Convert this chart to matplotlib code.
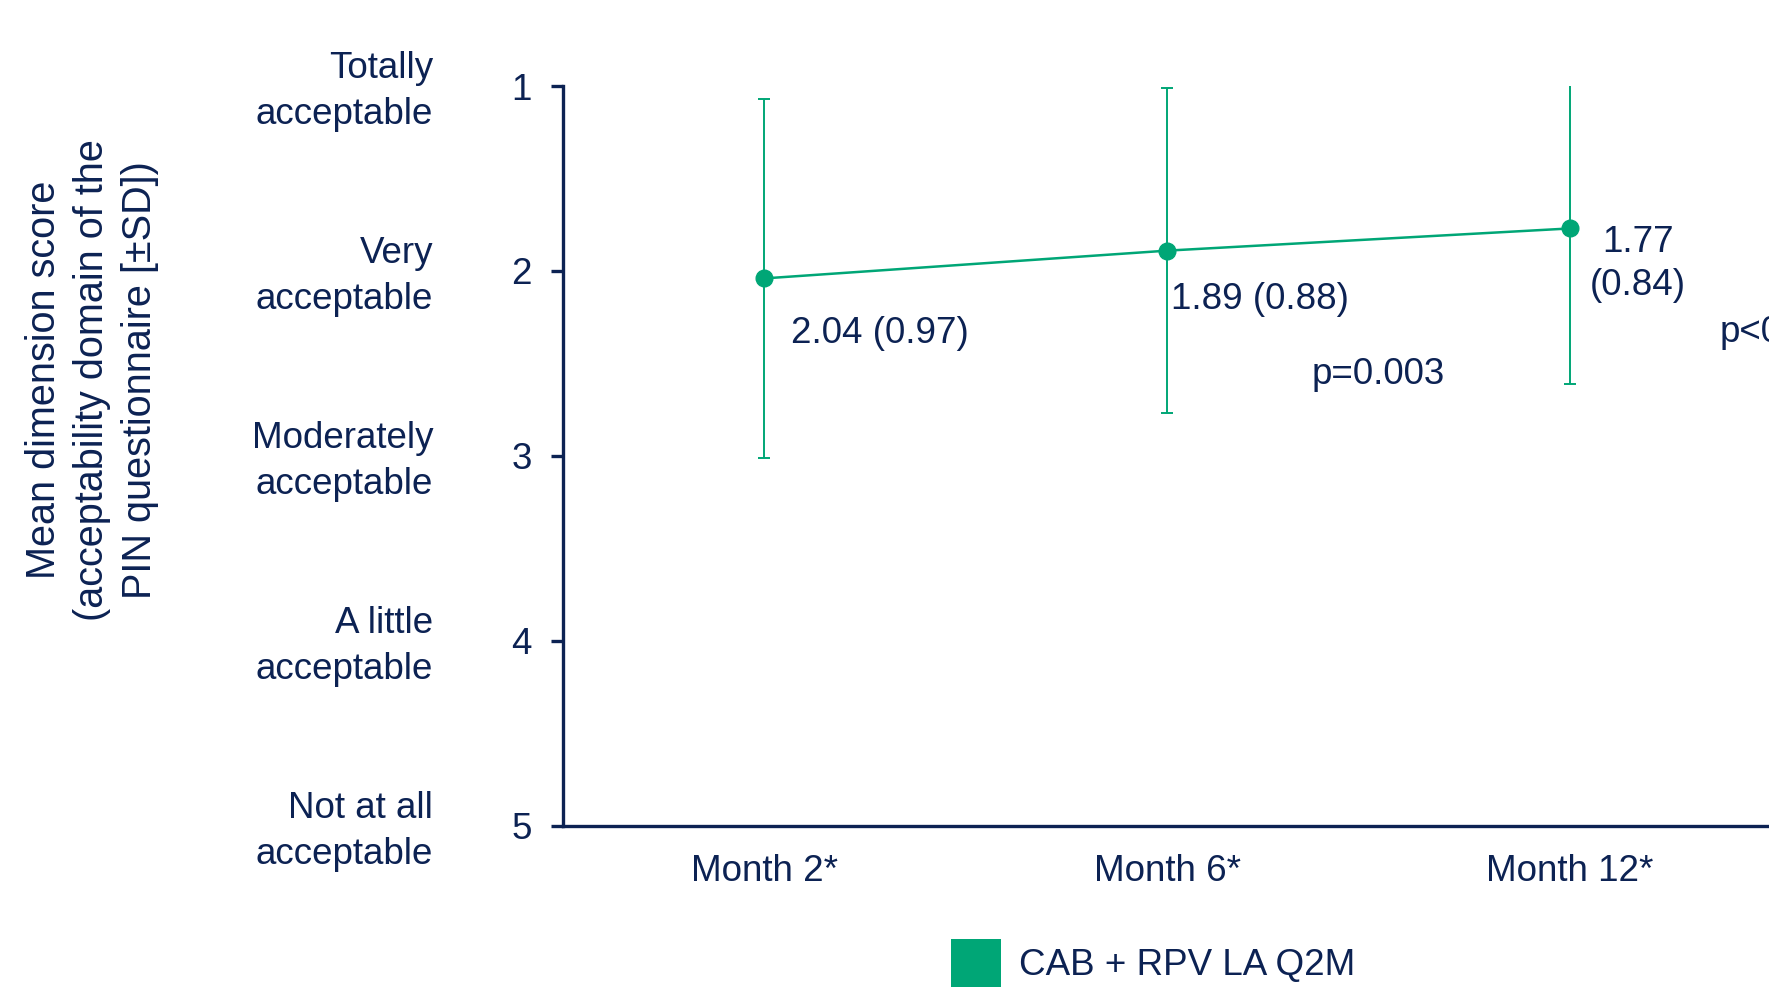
import matplotlib
matplotlib.use("Agg")
import matplotlib.pyplot as plt
from matplotlib.patches import Patch
from matplotlib.transforms import blended_transform_factory

plt.rcParams['font.family'] = ['Liberation Sans', 'DejaVu Sans']

navy = '#0c2253'
green = '#00a676'

timepoints = ['Month 2*', 'Month 6*', 'Month 12*']
means = [2.04, 1.89, 1.77]
sds = [0.97, 0.88, 0.84]
point_labels = ['2.04 (0.97)', '1.89 (0.88)', '1.77\n(0.84)']
levels = [1, 2, 3, 4, 5]
level_names = ['Totally\nacceptable', 'Very\nacceptable', 'Moderately\nacceptable',
               'A little\nacceptable', 'Not at all\nacceptable']
p_values = ['p=0.003', 'p<0.001']

fig = plt.figure(figsize=(17.69, 9.91), dpi=100)
ax = fig.add_axes([563 / 1769, 165 / 991, 1208 / 1769, 740 / 991])

x = list(range(len(timepoints)))
ax.errorbar(x, means, yerr=sds, color=green, lw=1.8, elinewidth=1.4,
            capsize=4.3, capthick=1.4, marker='o', ms=12)

ax.set_xlim(-0.5, 2.5)
ax.set_ylim(5, 1)
ax.set_yticks(levels)
ax.set_xticks(x)
ax.set_xticklabels(timepoints)

for s in ['top', 'right']:
    ax.spines[s].set_visible(False)
for s in ['left', 'bottom']:
    ax.spines[s].set_color(navy)
    ax.spines[s].set_linewidth(2.4)

ax.tick_params(axis='y', length=8.6, width=2.4, color=navy, labelcolor=navy,
               labelsize=26.5, pad=14)
ax.tick_params(axis='x', length=0, labelcolor=navy, labelsize=26.5, pad=20)

# descriptive labels next to the numeric ticks
trans = blended_transform_factory(fig.transFigure, ax.transData)
for lv, name in zip(levels, level_names):
    ax.text(433 / 1769, lv + 0.03, name, transform=trans, ha='right', va='center',
            fontsize=26.5, color=navy, linespacing=1.38, clip_on=False)

# value annotations
ax.text(0.067, 2.34, point_labels[0], ha='left', va='center', fontsize=26.5, color=navy)
ax.text(1.01, 2.155, point_labels[1], ha='left', va='center', fontsize=26.5, color=navy)
ax.text(2.17, 1.96, point_labels[2], ha='center', va='center', fontsize=26.5,
        color=navy, linespacing=1.3)
ax.text(1.358, 2.56, p_values[0], ha='left', va='center', fontsize=26.5, color=navy)
ax.text(2.373, 2.33, p_values[1], ha='left', va='center', fontsize=26.5, color=navy,
        clip_on=False)

fig.text(92 / 1769, 1 - 380 / 991,
         'Mean dimension score\n(acceptability domain of the\nPIN questionnaire [±SD])',
         rotation=90, ha='center', va='center', fontsize=28.5, color=navy,
         linespacing=1.33, multialignment='center')

handle = Patch(facecolor=green, edgecolor='none')
fig.legend([handle], ['CAB + RPV LA Q2M'], loc='center left',
           bbox_to_anchor=(951 / 1769, 1 - 963 / 991), frameon=False,
           fontsize=26.5, labelcolor=navy, handlelength=1.36, handleheight=1.6,
           handletextpad=0.5, borderpad=0, borderaxespad=0)

fig.savefig('out.png', dpi=100)
